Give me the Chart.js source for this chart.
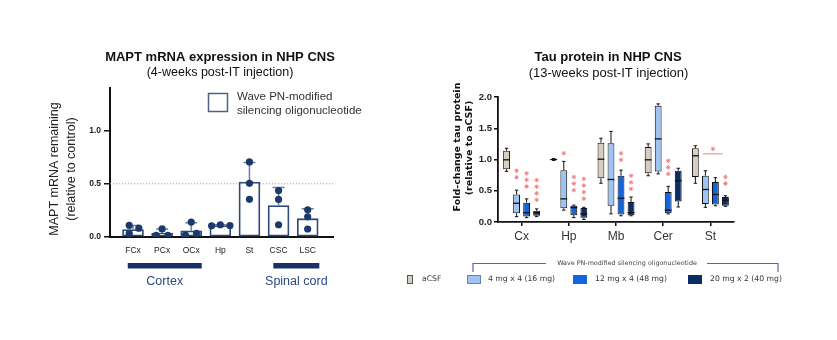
<!DOCTYPE html>
<html><head><meta charset="utf-8">
<script src="https://cdn.jsdelivr.net/npm/chart.js@4"></script>
<style>
html,body{margin:0;padding:0;background:#fff;}
#wrap{position:relative;width:837px;height:340px;overflow:hidden;}
canvas{position:absolute;left:0;top:0;}
</style></head><body>
<div id="wrap"><canvas id="c1" width="837" height="340"></canvas><canvas id="c2" width="837" height="340"></canvas></div>
<script>
// ===== Left chart: MAPT mRNA (4 weeks) =====
const regions = ['FCx','PCx','OCx','Hp','St','CSC','LSC'];
const meanRemaining = [0.07, 0.035, 0.058, 0.108, 0.516, 0.295, 0.172];
const sdUpper = [0.108, 0.076, 0.135, 0.115, 0.70, 0.465, 0.266];
const animalA = [0.11, 0.076, 0.14, 0.105, 0.705, 0.436, 0.256];
const animalB = [0.083, 0.016, 0.018, 0.115, 0.504, 0.353, 0.19];
const animalC = [0.035, 0.016, 0.035, 0.108, 0.354, 0.115, 0.075];
const leftYTicks = [0, 0.5, 1.0];
const refLine = 0.5;
const regionGroups = ['Cortex', 'Spinal cord'];

// ===== Right chart: Tau protein (13 weeks) =====
const tauRegions = ['Cx','Hp','Mb','Cer','St'];
const doseLabels = ['aCSF','4 mg x 4 (16 mg)','12 mg x 4 (48 mg)','20 mg x 2 (40 mg)'];
// each entry: [min, q1, median, q3, max]
const aCSF   = [[0.81,0.845,0.995,1.14,1.18],[0.985,0.993,1.0,1.007,1.015],[0.62,0.70,1.005,1.27,1.34],[0.74,0.78,0.995,1.20,1.25],[0.62,0.72,1.06,1.18,1.22]];
const dose4  = [[0.086,0.14,0.30,0.44,0.51],[0.19,0.22,0.37,0.83,0.97],[0.13,0.26,0.68,1.26,1.45],[0.77,0.81,1.33,1.86,1.89],[0.235,0.29,0.52,0.74,0.82]];
const dose12 = [[0.07,0.09,0.15,0.31,0.37],[0.07,0.11,0.23,0.26,0.27],[0.10,0.12,0.38,0.74,0.83],[0.13,0.14,0.19,0.48,0.57],[0.26,0.28,0.44,0.64,0.71]];
const dose20 = [[0.086,0.10,0.15,0.18,0.21],[0.04,0.07,0.13,0.225,0.235],[0.10,0.11,0.15,0.32,0.40],[0.24,0.33,0.66,0.82,0.86],[0.25,0.26,0.35,0.40,0.42]];
// significance: [region, dose series, number of asterisks, value of top asterisk]
const sigStars = [[0,1,2,0.82],[0,2,3,0.78],[0,3,4,0.67],[1,1,1,1.10],[1,2,3,0.72],[1,3,4,0.69],[2,2,2,1.10],[2,3,3,0.74],[3,2,3,0.98],[4,3,2,0.72]];
// bracketed comparison: [region, star value, line value]
const sigBracket = [4, 1.17, 1.09];

// ===== styles =====
const SANS = "Arial, 'Liberation Sans', sans-serif";
const VERD = "'DejaVu Sans', Verdana, sans-serif";
Chart.defaults.font.family = SANS;
const doseColors = ['#d6cebe','#a0c4f2','#1464dc','#0c2c66'];
const navy = '#163266';

function txt(ctx, s, x, y, font, color, align='center', rot=0){
  ctx.save(); ctx.font = font; ctx.fillStyle = color; ctx.textAlign = align; ctx.textBaseline = 'middle';
  ctx.translate(x, y); if (rot) ctx.rotate(rot); ctx.fillText(s, 0, 0); ctx.restore();
}

const dotJitter = [[-0.13,0.2,-0.13],[0,-0.2,0.2],[0,-0.2,0.18],[-0.3,0,0.33],[0,0,0],[0,0,0],[0,0,0]];
const dots = [];
regions.forEach((r,i)=>{ [animalA,animalB,animalC].forEach((arr,k)=>dots.push({x:i+dotJitter[i][k], y:arr[i]})); });

const leftDecor = {
  id:'leftDecor',
  beforeDatasetsDraw(chart){
    const {ctx, chartArea:a, scales:{y}} = chart;
    const py = y.getPixelForValue(refLine);
    ctx.save(); ctx.strokeStyle='#a0a0a0'; ctx.lineWidth=1; ctx.setLineDash([1.2,1.8]);
    ctx.beginPath(); ctx.moveTo(a.left,py); ctx.lineTo(a.right,py); ctx.stroke(); ctx.restore();
  },
  afterDatasetDraw(chart,args){
    if (args.index!==0) return;
    const {ctx, scales:{y}} = chart;
    const meta = chart.getDatasetMeta(0);
    ctx.save(); ctx.strokeStyle='#6d7f9f'; ctx.lineWidth=1.5;
    meta.data.forEach((el,i)=>{
      const pt = y.getPixelForValue(sdUpper[i]);
      ctx.beginPath(); ctx.moveTo(el.x, el.y); ctx.lineTo(el.x, pt);
      ctx.moveTo(el.x-6, pt); ctx.lineTo(el.x+6, pt); ctx.stroke();
    });
    ctx.restore();
  },
  afterDraw(chart){
    const {ctx, scales:{x}} = chart;
    txt(ctx,'MAPT mRNA expression in NHP CNS',220,57,'bold 13px '+SANS,'#111');
    txt(ctx,'(4-weeks post-IT injection)',220,73,'12.5px '+SANS,'#111');
    txt(ctx,'MAPT mRNA remaining',55,169,'12.5px '+SANS,'#222','center',-Math.PI/2);
    txt(ctx,'(relative to control)',72,169,'12.5px '+SANS,'#222','center',-Math.PI/2);
    // legend
    ctx.save(); ctx.strokeStyle='#4b6384'; ctx.lineWidth=1.5; ctx.fillStyle='#fff';
    ctx.fillRect(208.5,93.5,19,18); ctx.strokeRect(208.5,93.5,19,18); ctx.restore();
    txt(ctx,'Wave PN-modified',237,97,'11.5px '+SANS,'#333','left');
    txt(ctx,'silencing oligonucleotide',237,111,'11.5px '+SANS,'#333','left');
    // region groups
    const spans = [[-0.18,2.36],[4.82,6.4]];
    ctx.save(); ctx.fillStyle=navy;
    spans.forEach((s,k)=>{
      const x1=x.getPixelForValue(s[0]), x2=x.getPixelForValue(s[1]);
      ctx.fillRect(x1,263,x2-x1,5.5);
      txt(ctx,regionGroups[k],(x1+x2)/2,282,'12.5px '+SANS,'#2a4a80');
    });
    ctx.restore();
  }
};

new Chart(document.getElementById('c1'), {
  type:'bar',
  data:{datasets:[
    {type:'bar', label:'Wave PN-modified silencing oligonucleotide', data: regions.map((r,i)=>({x:i,y:meanRemaining[i]})),
     backgroundColor:'#ffffff', borderColor:'#2e4a78', borderWidth:1.8, borderSkipped:false, barThickness:21, order:2},
    {type:'scatter', label:'Individual animals', data: dots, backgroundColor:'#1b3a6b', borderWidth:0, pointRadius:3.6, order:1}
  ]},
  options:{
    responsive:false, animation:false, devicePixelRatio:1,
    layout:{padding:{left:50, top:88, right:504, bottom:73}},
    plugins:{legend:{display:false}, tooltip:{enabled:false}},
    scales:{
      x:{type:'linear', min:-0.79, max:6.87, offset:false,
         grid:{display:false, drawTicks:false}, border:{display:true, color:'#111', width:2},
         afterBuildTicks:s=>{ s.ticks = regions.map((_,i)=>({value:i})); },
         ticks:{autoSkip:false, maxRotation:0, callback:v=>regions[v], font:{size:8.5}, color:'#222', padding:9},
         afterFit:s=>{ s.height = 30; }},
      y:{min:0, max:1.4,
         afterBuildTicks:s=>{ s.ticks = leftYTicks.map(v=>({value:v})); },
         ticks:{callback:v=>Number(v).toFixed(1), font:{size:8.5, weight:'bold'}, color:'#222', padding:3},
         grid:{drawOnChartArea:false, drawTicks:true, tickLength:6, color:'#111', lineWidth:1.5},
         border:{display:true, color:'#111', width:2},
         afterFit:s=>{ s.width = 60; }}
    }
  },
  plugins:[leftDecor]
});

// ===== right chart =====
const doseSeries = [aCSF, dose4, dose12, dose20];

function drawStar(ctx, cx, cy, r){
  ctx.beginPath();
  for (let k=0;k<4;k++){ const a=k*Math.PI/4; ctx.moveTo(cx-r*Math.cos(a), cy-r*Math.sin(a)); ctx.lineTo(cx+r*Math.cos(a), cy+r*Math.sin(a)); }
  ctx.stroke();
}

const rightDecor = {
  id:'rightDecor',
  afterDatasetsDraw(chart){
    const {ctx, scales:{y}} = chart;
    ctx.save(); ctx.strokeStyle='#111'; ctx.lineWidth=1;
    chart.data.datasets.forEach((ds,di)=>{
      const meta = chart.getDatasetMeta(di);
      meta.data.forEach((el,i)=>{
        const s = doseSeries[di][i];
        const cap = el.width*0.25;
        const pMin=y.getPixelForValue(s[0]), pQ1=y.getPixelForValue(s[1]), pMed=y.getPixelForValue(s[2]), pQ3=y.getPixelForValue(s[3]), pMax=y.getPixelForValue(s[4]);
        ctx.lineWidth=1;
        ctx.beginPath();
        ctx.moveTo(el.x,pQ3); ctx.lineTo(el.x,pMax); ctx.moveTo(el.x-cap,pMax); ctx.lineTo(el.x+cap,pMax);
        ctx.moveTo(el.x,pQ1); ctx.lineTo(el.x,pMin); ctx.moveTo(el.x-cap,pMin); ctx.lineTo(el.x+cap,pMin);
        ctx.stroke();
        ctx.lineWidth=1.3;
        ctx.beginPath(); ctx.moveTo(el.x-el.width/2,pMed); ctx.lineTo(el.x+el.width/2,pMed); ctx.stroke();
      });
    });
    // asterisks
    ctx.strokeStyle='#f08282'; ctx.lineWidth=1;
    sigStars.forEach(([r,d,n,top])=>{
      const el = chart.getDatasetMeta(d).data[r];
      const py = y.getPixelForValue(top);
      for (let k=0;k<n;k++) drawStar(ctx, el.x, py+k*6.6, 2.2);
    });
    const [br, bStar, bLine] = sigBracket;
    const e1 = chart.getDatasetMeta(1).data[br], e3 = chart.getDatasetMeta(3).data[br];
    const pl = y.getPixelForValue(bLine);
    ctx.beginPath(); ctx.moveTo(e1.x-2.5,pl); ctx.lineTo(e3.x-2.5,pl); ctx.stroke();
    drawStar(ctx,(e1.x+e3.x)/2-2.5,y.getPixelForValue(bStar),2.2);
    ctx.restore();
  },
  afterDraw(chart){
    const {ctx} = chart;
    txt(ctx,'Tau protein in NHP CNS',608,57,'bold 13px '+SANS,'#111');
    txt(ctx,'(13-weeks post-IT injection)',608.5,73,'13px '+SANS,'#111');
    txt(ctx,'Fold-change tau protein',458,147,'bold 9.5px '+VERD,'#111','center',-Math.PI/2);
    txt(ctx,'(relative to aCSF)',470,148,'bold 9.5px '+VERD,'#111','center',-Math.PI/2);
    // legend bracket
    ctx.save(); ctx.strokeStyle='#4e6fa0'; ctx.lineWidth=1.2;
    ctx.beginPath(); ctx.moveTo(473,272); ctx.lineTo(473,263.5); ctx.lineTo(546,263.5);
    ctx.moveTo(707,263.5); ctx.lineTo(778,263.5); ctx.lineTo(778,272); ctx.stroke(); ctx.restore();
    txt(ctx,'Wave PN-modified silencing oligonucleotide',627,263.5,'6.4px '+VERD,'#444');
    const boxes = [[407,5],[467,13],[573,13],[688,13]];
    const textX = [422,488,595,710];
    chart.data.datasets.forEach((ds,k)=>{
      ctx.save(); ctx.fillStyle=ds.backgroundColor; ctx.strokeStyle= k===0 ? '#555' : (k===1 ? '#5c84c0' : ds.backgroundColor); ctx.lineWidth=1;
      ctx.fillRect(boxes[k][0]+0.5,275.5,boxes[k][1],8); ctx.strokeRect(boxes[k][0]+0.5,275.5,boxes[k][1],8); ctx.restore();
      txt(ctx,ds.label,textX[k],279.5,'7.7px '+VERD,'#333','left');
    });
  }
};

new Chart(document.getElementById('c2'), {
  type:'bar',
  data:{labels:tauRegions, datasets: doseSeries.map((ser,k)=>({
    label:doseLabels[k], data: ser.map(s=>[s[1],s[3]]),
    backgroundColor:doseColors[k], borderColor:'#111', borderWidth:1, borderSkipped:false
  }))},
  options:{
    responsive:false, animation:false, devicePixelRatio:1,
    layout:{padding:{left:458, top:97, right:103, bottom:88}},
    datasets:{bar:{categoryPercentage:0.85, barPercentage:0.68}},
    plugins:{legend:{display:false}, tooltip:{enabled:false}},
    scales:{
      x:{grid:{display:true, drawOnChartArea:false, drawTicks:true, tickLength:4, offset:false, color:'#111', lineWidth:1.5},
         border:{display:true, color:'#111', width:1.8},
         ticks:{font:{size:12}, color:'#333', padding:3},
         afterFit:s=>{ s.height = 30; }},
      y:{min:0, max:2,
         ticks:{stepSize:0.5, callback:v=>Number(v).toFixed(1), font:{size:9.5, weight:'bold'}, color:'#222', padding:2},
         grid:{drawOnChartArea:false, drawTicks:true, tickLength:4, color:'#111', lineWidth:1.5},
         border:{display:true, color:'#111', width:1.8},
         afterFit:s=>{ s.width = 40; }}
    }
  },
  plugins:[rightDecor]
});
</script>
</body></html>
